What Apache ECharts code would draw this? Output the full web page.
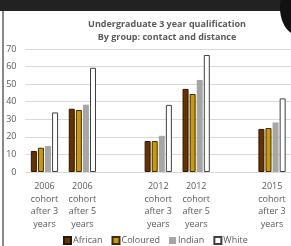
<!DOCTYPE html>
<html>
<head>
<meta charset="utf-8">
<script src="https://cdn.jsdelivr.net/npm/echarts@6/dist/echarts.min.js"></script>
<style>
  html, body { margin: 0; padding: 0; background: #fff; }
  #chart { width: 291px; height: 246px; }
</style>
</head>
<body>
<div id="chart"></div>
<script>
// 类别（空字符串为组间空位）
const categories = [
  "2006\ncohort\nafter 3\nyears",
  "2006\ncohort\nafter 5\nyears",
  "",
  "2012\ncohort\nafter 3\nyears",
  "2012\ncohort\nafter 5\nyears",
  "",
  "2015\ncohort\nafter 3\nyears"
]
const african = [12, 36, "-", 17.6, 47.3, "-", 24.5]
const coloured = [13.8, 35.3, "-", 17.6, 44.4, "-", 25]
const indian = [14.8, 38.3, "-", 20.6, 52.4, "-", 28.2]
const white = [33.9, 59.3, "-", 38.2, 66.6, "-", 41.9]
const yTicks = [0, 70, 10] // min, max, interval

const chart = echarts.init(document.getElementById("chart"))
const textColor = "#595959"
const font = "'Open Sans', 'Noto Sans', sans-serif"

function barSeries(name, data, color, border) {
  return {
    name: name,
    type: "bar",
    data: data,
    barWidth: 6,
    barGap: "18%",
    itemStyle: {
      color: color,
      borderColor: border,
      borderWidth: border ? 1 : 0
    }
  }
}

const option = {
  animation: false,
  title: {
    text: "Undergraduate 3 year qualification\nBy group: contact and distance",
    left: 162,
    textAlign: "center",
    top: 13,
    textStyle: {
      color: textColor,
      fontSize: 9,
      fontWeight: "bold",
      fontFamily: font,
      lineHeight: 13
    }
  },
  legend: {
    top: 231,
    left: 58,
    itemWidth: 7,
    itemHeight: 7,
    itemGap: 9,
    icon: "rect",
    textStyle: { color: textColor, fontSize: 9, fontFamily: font, padding: [0, 0, 0, -3] },
    data: ["African", "Coloured", "Indian", "White"]
  },
  grid: { left: 25.5, right: -3, top: 49, bottom: 74 },
  xAxis: {
    type: "category",
    data: categories,
    axisTick: { show: false },
    axisLine: { lineStyle: { color: "#d9d9d9" } },
    axisLabel: {
      color: textColor,
      fontSize: 9,
      fontFamily: font,
      lineHeight: 12.7,
      margin: 8,
      interval: 0
    }
  },
  yAxis: {
    type: "value",
    min: yTicks[0],
    max: yTicks[1],
    interval: yTicks[2],
    axisLabel: { color: textColor, fontSize: 9, fontFamily: font, margin: 9 },
    splitLine: { lineStyle: { color: "#d9d9d9" } }
  },
  series: [
    barSeries("African", african, "#663300", "#2b1600"),
    barSeries("Coloured", coloured, "#cc9900", "#3d2a00"),
    barSeries("Indian", indian, "#a6a6a6", null),
    barSeries("White", white, "#ffffff", "#404040")
  ],
  graphic: [
    // 顶部黑条
    { type: "rect", left: 0, top: 0, shape: { width: 291, height: 11 }, style: { fill: "#222222" }, z: 10 },
    // 左侧灰线
    { type: "rect", left: 2, top: 11, shape: { width: 2, height: 235 }, style: { fill: "#888888" }, z: 10 },
    // 右上角黑色图案
    { type: "ellipse", shape: { cx: 300, cy: 8, rx: 20, ry: 28 }, style: { fill: "#111111" }, z: 10 }
  ]
}
chart.setOption(option)
</script>
</body>
</html>
